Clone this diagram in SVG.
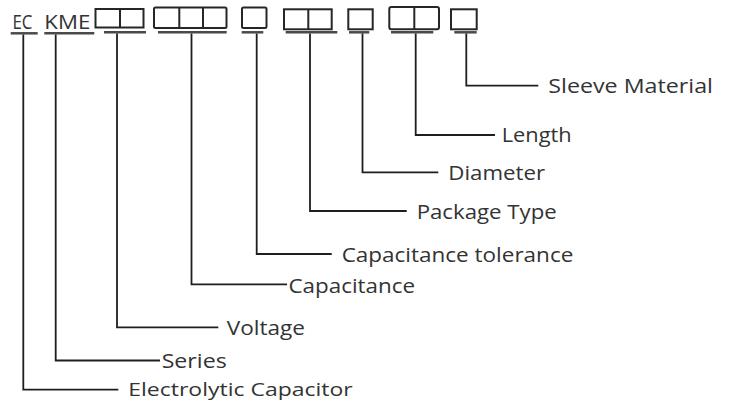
<svg xmlns="http://www.w3.org/2000/svg" width="732" height="401" viewBox="0 0 732 401">
<style>
.t{font-family:"Open Sans","Liberation Sans",sans-serif;font-size:20px;fill:#333333}
.box{fill:none;stroke:#262626;stroke-width:2}
.ul{stroke:#4a4a4a;stroke-width:2.5;fill:none}
.c{fill:none;stroke:#1e1e1e;stroke-width:1.8}
</style>
<rect width="732" height="401" fill="#ffffff"/>
<g id="prefix-ec">
<text class="t" x="12.5" y="29.3" textLength="20" lengthAdjust="spacingAndGlyphs">EC</text>
<line class="ul" x1="10.7" y1="33.3" x2="37.7" y2="33.3"/>
</g>
<g id="prefix-kme">
<text class="t" x="44.3" y="29.3" textLength="46" lengthAdjust="spacingAndGlyphs">KME</text>
<line class="ul" x1="44.3" y1="33.3" x2="94.3" y2="33.3"/>
</g>
<g id="voltage-boxes">
<rect class="box" x="95.5" y="9" width="48" height="18.5"/>
<line class="box" x1="120" y1="9" x2="120" y2="27.5"/>
<line class="ul" x1="104" y1="32.3" x2="146" y2="32.3"/>
</g>
<g id="capacitance-boxes">
<rect class="box" x="154" y="7.5" width="72.5" height="20.5" rx="1.5"/>
<line class="box" x1="179.3" y1="7.5" x2="179.3" y2="28"/>
<line class="box" x1="203" y1="7.5" x2="203" y2="28"/>
<line class="ul" x1="158" y1="32.3" x2="226.7" y2="32.3"/>
</g>
<g id="tolerance-box">
<rect class="box" x="242" y="7.5" width="24.5" height="20.5" rx="1.5"/>
<line class="ul" x1="241.7" y1="32.3" x2="263.3" y2="32.3"/>
</g>
<g id="package-boxes">
<rect class="box" x="284" y="9.3" width="47.7" height="20"/>
<line class="box" x1="308.3" y1="9.3" x2="308.3" y2="29.3"/>
<line class="ul" x1="285.7" y1="32.3" x2="337.3" y2="32.3"/>
</g>
<g id="diameter-box">
<rect class="box" x="348.3" y="9.3" width="24.4" height="20"/>
<line class="ul" x1="349" y1="32.3" x2="369.3" y2="32.3"/>
</g>
<g id="length-boxes">
<rect class="box" x="389.3" y="7" width="49.7" height="22.3" rx="2"/>
<line class="box" x1="414.3" y1="7" x2="414.3" y2="29.3"/>
<line class="ul" x1="391" y1="32.3" x2="433.3" y2="32.3"/>
</g>
<g id="sleeve-box">
<rect class="box" x="451" y="9.3" width="25.7" height="20"/>
<line class="ul" x1="454.3" y1="32.3" x2="476.7" y2="32.3"/>
</g>
<g id="connectors">
<polyline class="c" points="466.3,33.5 466.3,85.7 538.3,85.7"/>
<polyline class="c" points="415.7,33.5 415.7,135 495,135"/>
<polyline class="c" points="362.5,33.5 362.5,172.3 438.3,172.3"/>
<polyline class="c" points="310,33.5 310,211 406.7,211"/>
<polyline class="c" points="256.7,33.5 256.7,254 331.7,254"/>
<polyline class="c" points="191.5,33.5 191.5,284.3 287,284.3"/>
<polyline class="c" points="117,33.5 117,327.3 218.3,327.3"/>
<polyline class="c" points="55.7,34.5 55.7,360.5 160,360.5"/>
<polyline class="c" points="23.3,34.5 23.3,389.7 118.3,389.7"/>
</g>
<g id="label-sleeve"><text class="t" x="548.3" y="93.3" textLength="164.7" lengthAdjust="spacingAndGlyphs">Sleeve Material</text></g>
<g id="label-length"><text class="t" x="501.7" y="142.3" textLength="70" lengthAdjust="spacingAndGlyphs">Length</text></g>
<g id="label-diameter"><text class="t" x="448.3" y="180" textLength="96.7" lengthAdjust="spacingAndGlyphs">Diameter</text></g>
<g id="label-package"><text class="t" x="416.7" y="219" textLength="140" lengthAdjust="spacingAndGlyphs">Package Type</text></g>
<g id="label-tolerance"><text class="t" x="341.7" y="261.7" textLength="231.6" lengthAdjust="spacingAndGlyphs">Capacitance tolerance</text></g>
<g id="label-capacitance"><text class="t" x="288.5" y="293.2" textLength="126.5" lengthAdjust="spacingAndGlyphs">Capacitance</text></g>
<g id="label-voltage"><text class="t" x="226.7" y="335" textLength="78.3" lengthAdjust="spacingAndGlyphs">Voltage</text></g>
<g id="label-series"><text class="t" x="161.7" y="368.3" textLength="65" lengthAdjust="spacingAndGlyphs">Series</text></g>
<g id="label-electrolytic"><text class="t" x="128.3" y="396" style="font-size:19px" textLength="224.4" lengthAdjust="spacingAndGlyphs">Electrolytic Capacitor</text></g>
</svg>
